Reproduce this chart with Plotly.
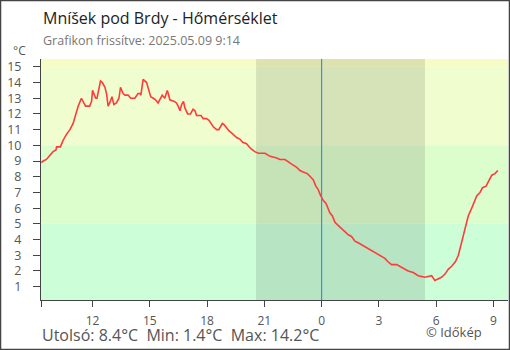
import plotly.graph_objects as go

# ---- data ----
times_may8 = ["09:19", "09:25", "09:35", "09:46", "09:56", "10:05", "10:07", "10:19", "10:22", "10:27",
              "10:38", "10:49", "10:59", "11:04", "11:15", "11:25", "11:30", "11:38", "11:51", "11:57",
              "12:00", "12:04", "12:10", "12:14", "12:20", "12:25", "12:31", "12:39", "12:44", "12:49",
              "12:54", "13:01", "13:07", "13:15", "13:23", "13:28", "13:36", "13:42", "13:52", "14:00",
              "14:13", "14:23", "14:29", "14:32", "14:39", "14:50", "14:57", "15:03", "15:11", "15:18",
              "15:26", "15:39", "15:47", "15:55", "15:58", "16:03", "16:17", "16:24", "16:29", "16:35",
              "16:40", "16:46", "16:50", "16:59", "17:08", "17:16", "17:22", "17:27", "17:41", "17:48",
              "17:58", "18:06", "18:19", "18:30", "18:37", "18:48", "18:54", "19:01", "19:10", "19:17",
              "19:27", "19:33", "19:43", "19:52", "20:04", "20:17", "20:30", "20:41", "21:02", "21:18",
              "21:39", "21:49", "22:05", "22:18", "22:26", "22:42", "22:52", "23:02", "23:15", "23:25",
              "23:34", "23:42", "23:49", "23:57"]
temps_may8 = [8.9, 9.0, 9.1, 9.4, 9.6, 9.7, 9.9, 9.9, 10.1, 10.3,
              10.7, 11.0, 11.4, 11.8, 12.5, 13.0, 12.8, 12.5, 12.5, 12.8,
              13.5, 13.3, 13.0, 13.0, 13.7, 14.1, 14.0, 13.7, 13.3, 12.5,
              12.7, 13.1, 12.6, 12.7, 13.0, 13.7, 13.3, 13.2, 13.2, 13.0,
              13.0, 13.3, 13.3, 13.2, 14.2, 14.0, 13.5, 13.1, 13.0, 12.9,
              12.7, 13.2, 13.0, 13.5, 13.3, 12.9, 12.8, 12.7, 12.5, 12.2,
              12.6, 12.8, 12.4, 12.0, 12.0, 12.3, 12.2, 11.9, 11.9, 11.7,
              11.7, 11.6, 11.2, 11.0, 11.0, 11.4, 11.3, 11.1, 10.9, 10.8,
              10.6, 10.5, 10.4, 10.2, 10.1, 9.8, 9.6, 9.5, 9.5, 9.3,
              9.2, 9.1, 9.1, 8.9, 8.8, 8.6, 8.4, 8.3, 8.2, 8.0,
              7.8, 7.4, 7.2, 6.8]
times_may9 = ["00:05", "00:14", "00:21", "00:26", "00:34", "00:42", "00:52", "01:03", "01:11", "01:24",
              "01:34", "01:45", "01:55", "02:11", "02:22", "02:37", "02:53", "03:09", "03:19", "03:28",
              "03:40", "03:56", "04:12", "04:32", "04:48", "05:04", "05:25", "05:46", "05:56", "06:07",
              "06:17", "06:28", "06:38", "06:49", "07:01", "07:10", "07:17", "07:25", "07:33", "07:41",
              "07:52", "07:59", "08:08", "08:18", "08:26", "08:37", "08:44", "08:55", "09:05", "09:14"]
temps_may9 = [6.5, 6.3, 5.9, 5.7, 5.5, 5.1, 4.9, 4.7, 4.5, 4.3,
              4.2, 3.9, 3.8, 3.6, 3.5, 3.3, 3.1, 2.9, 2.8, 2.6,
              2.4, 2.4, 2.2, 2.0, 1.9, 1.7, 1.6, 1.7, 1.4, 1.5,
              1.6, 1.8, 2.1, 2.3, 2.6, 3.0, 3.6, 4.2, 5.0, 5.5,
              6.0, 6.4, 6.8, 7.0, 7.3, 7.4, 7.7, 8.1, 8.2, 8.4]

x_range = ["2025-05-08 09:18", "2025-05-09 09:46"]
x_tickvals = ["2025-05-08 09:18", "2025-05-08 12:00", "2025-05-08 15:00", "2025-05-08 18:00",
              "2025-05-08 21:00", "2025-05-09 00:00", "2025-05-09 03:00", "2025-05-09 06:00",
              "2025-05-09 09:00"]
x_ticktext = ["", "12", "15", "18", "21", "0", "3", "6", "9"]
y_range = [0.15, 15.5]
y_ticks = list(range(1, 16))
sunset = "2025-05-08 20:34"
sunrise = "2025-05-09 05:25"
midnight = "2025-05-09 00:00"
band_limits = [0, 5, 10, 15, 20]
band_colors = ["#ccfed8", "#dcfdcc", "#effdcf", "#f7fcc3"]

title = "Mníšek pod Brdy - Hőmérséklet"
subtitle = "Grafikon frissítve: 2025.05.09 9:14"
footer = "Utolsó: 8.4°C  Min: 1.4°C  Max: 14.2°C"
credit = "© Időkép"

times = ["2025-05-08 " + t for t in times_may8] + ["2025-05-09 " + t for t in times_may9]
temps = temps_may8 + temps_may9

W, H = 510, 350
FONT = "Open Sans, Noto Sans, sans-serif"
AX = "#444444"
LBL = "#555555"

fig = go.Figure()
fig.add_trace(go.Scatter(x=times, y=temps, mode="lines",
                         line=dict(color="#ff3b3b", width=1.6), hoverinfo="skip",
                         showlegend=False))

shapes = []
for i, c in enumerate(band_colors):
    shapes.append(dict(type="rect", xref="x domain", yref="y", x0=0, x1=1,
                       y0=band_limits[i], y1=band_limits[i + 1], fillcolor=c,
                       line=dict(width=0), layer="below"))
shapes.append(dict(type="rect", xref="x", yref="y domain", x0=sunset, x1=sunrise, y0=0, y1=1,
                   fillcolor="rgba(0,0,0,0.1)", line=dict(width=0), layer="below"))
shapes.append(dict(type="line", xref="x", yref="y domain", x0=midnight, x1=midnight, y0=0, y1=1,
                   line=dict(color="#2196f3", width=1.2), layer="above"))
shapes.append(dict(type="rect", xref="paper", yref="paper", x0=0.001, x1=0.999, y0=0.0015, y1=0.9985,
                   line=dict(color="#444444", width=1.5), fillcolor="rgba(0,0,0,0)"))

def px(x):
    return x / W

def py(y):
    return 1 - y / H

annotations = [
    dict(text=title, x=px(41), y=py(18), xref="paper", yref="paper", xanchor="left",
         yanchor="middle", showarrow=False, font=dict(family=FONT, size=16, color="#222222")),
    dict(text=subtitle, x=px(41), y=py(40), xref="paper", yref="paper", xanchor="left",
         yanchor="middle", showarrow=False, font=dict(family=FONT, size=12.5, color="#777777")),
    dict(text="°C", x=px(11), y=py(51), xref="paper", yref="paper", xanchor="left",
         yanchor="middle", showarrow=False, font=dict(family=FONT, size=12, color=LBL)),
    dict(text=footer, x=px(40), y=py(335), xref="paper", yref="paper", xanchor="left",
         yanchor="middle", showarrow=False, font=dict(family=FONT, size=16, color=LBL)),
    dict(text=credit, x=px(424), y=py(332), xref="paper", yref="paper", xanchor="left",
         yanchor="middle", showarrow=False, font=dict(family=FONT, size=13, color=LBL)),
]

x_dom = [41 / W, 508 / W]
y_dom = [(H - 300) / H, (H - 59) / H]

fig.update_layout(
    width=W, height=H, margin=dict(l=0, r=0, t=0, b=0, pad=0),
    paper_bgcolor="white", plot_bgcolor="white",
    font=dict(family=FONT, color=LBL),
    shapes=shapes, annotations=annotations, showlegend=False,
    xaxis=dict(type="date", range=x_range, domain=x_dom, anchor="y",
               tickmode="array", tickvals=x_tickvals, ticktext=x_ticktext,
               ticks="outside", ticklen=6, tickwidth=1, tickcolor=AX,
               showline=True, linecolor=AX, linewidth=1, showgrid=False, zeroline=False,
               ticklabelstandoff=4,
               tickfont=dict(family=FONT, size=12, color=LBL)),
    xaxis2=dict(type="date", range=x_range, anchor="y", overlaying="x",
                tickmode="array", tickvals=x_tickvals[1:], ticks="inside", ticklen=6,
                tickwidth=1, tickcolor=AX, showticklabels=False, showline=False,
                showgrid=False, zeroline=False),
    yaxis=dict(range=y_range, domain=y_dom, anchor="x", tickmode="array",
               tickvals=y_ticks, ticks="outside", ticklen=7, tickwidth=1,
               tickcolor=AX, showticklabels=True, showline=True, linecolor=AX, linewidth=1,
               showgrid=False, zeroline=False, ticklabelstandoff=9,
               tickfont=dict(family=FONT, size=12.5, color=LBL)),
    yaxis2=dict(range=y_range, anchor="x", overlaying="y", tickmode="array",
                tickvals=y_ticks, ticks="inside", ticklen=7, tickwidth=1, tickcolor=AX,
                showticklabels=False, showline=False, showgrid=False, zeroline=False),
)

fig.write_html("out.html")
